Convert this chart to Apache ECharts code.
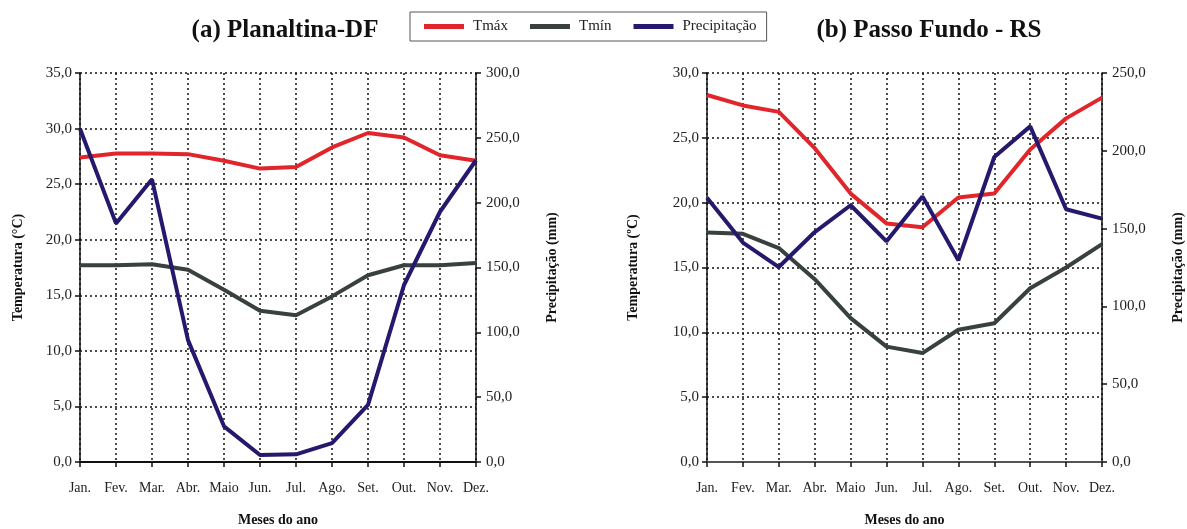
<!DOCTYPE html>
<html>
<head>
<meta charset="utf-8">
<script src="https://cdn.jsdelivr.net/npm/echarts@6/dist/echarts.min.js"></script>
<style>html,body{margin:0;padding:0;background:#fff}#c{width:1187px;height:529px}</style>
</head>
<body>
<div id="c"></div>
<script>
const months = ['Jan.','Fev.','Mar.','Abr.','Maio','Jun.','Jul.','Ago.','Set.','Out.','Nov.','Dez.'];
// (a) Planaltina-DF
const tmaxA = [27.4,27.75,27.75,27.7,27.1,26.4,26.55,28.3,29.6,29.2,27.6,27.1];
const tminA = [17.7,17.7,17.8,17.3,15.5,13.6,13.2,14.9,16.8,17.7,17.7,17.9];
const precA = [257,184,218,94,27.5,5.4,5.9,14.6,44,136.5,193,232.7];
// (b) Passo Fundo - RS
const tmaxB = [28.3,27.5,27.0,24.2,20.7,18.4,18.1,20.4,20.7,24.1,26.5,28.1];
const tminB = [17.7,17.6,16.5,14.1,11.1,8.9,8.4,10.2,10.7,13.4,15.0,16.8];
const precB = [169.9,141,125.3,147.8,165,141.8,170.7,129.6,196,215.7,162.4,156.4];

const FONT = 'Liberation Serif';
const cRed = '#e0262a', cGrey = '#384040', cNavy = '#24196c';
const fmt = v => v.toFixed(1).replace('.', ',');

function xAxis(gi, lineColor) {
  return {
    type: 'category', gridIndex: gi, data: months, boundaryGap: false,
    name: 'Meses do ano', nameLocation: 'middle', nameGap: 51,
    nameTextStyle: {fontFamily: FONT, fontWeight: 'bold', fontSize: 14, color: '#111'},
    axisLine: {lineStyle: {color: lineColor, width: 2}},
    axisTick: {show: true, length: 5, lineStyle: {color: '#111', width: 1.5}},
    axisLabel: {fontFamily: FONT, fontSize: 14, color: '#222', margin: 19, interval: 0, hideOverlap: false},
    splitLine: {show: true, interval: 0, lineStyle: {color: '#111', type: [2, 3], width: 1.5}}
  };
}
function yTemp(gi, max, name, gap) {
  return {
    type: 'value', gridIndex: gi, min: 0, max: max, interval: 5, position: 'left',
    name: name, nameLocation: 'middle', nameGap: gap,
    nameTextStyle: {fontFamily: FONT, fontWeight: 'bold', fontSize: 14, color: '#111'},
    axisLine: {show: true, lineStyle: {color: '#111', width: 1.5}},
    axisTick: {show: true, length: 5, lineStyle: {color: '#111', width: 1.5}},
    axisLabel: {fontFamily: FONT, fontSize: 15, color: '#222', formatter: fmt, margin: 8},
    splitLine: {show: true, lineStyle: {color: '#111', type: [2, 3], width: 1.5}}
  };
}
function yPrec(gi, max, gap) {
  return {
    type: 'value', gridIndex: gi, min: 0, max: max, interval: 50, position: 'right',
    name: 'Precipitação (mm)', nameLocation: 'middle', nameGap: gap,
    nameTextStyle: {fontFamily: FONT, fontWeight: 'bold', fontSize: 14, color: '#111'},
    axisLine: {show: true, lineStyle: {color: '#111', width: 1.5}},
    axisTick: {show: true, length: 5, lineStyle: {color: '#111', width: 1.5}},
    axisLabel: {fontFamily: FONT, fontSize: 15, color: '#222', formatter: fmt, margin: 10},
    splitLine: {show: false}
  };
}
function line(name, data, xi, yi, color) {
  return {name, type: 'line', data, xAxisIndex: xi, yAxisIndex: yi, symbol: 'none',
    lineStyle: {color, width: 4}, itemStyle: {color}, animation: false};
}

const chart = echarts.init(document.getElementById('c'), null, {renderer: 'canvas'});
chart.setOption({
  backgroundColor: '#fff',
  animation: false,
  title: [
    {text: '(a) Planaltina-DF', left: 280, top: 13, textAlign: 'center',
     textStyle: {fontFamily: FONT, fontWeight: 'bold', fontSize: 25, color: '#111'}},
    {text: '(b) Passo Fundo - RS', left: 924, top: 13, textAlign: 'center',
     textStyle: {fontFamily: FONT, fontWeight: 'bold', fontSize: 25, color: '#111'}}
  ],
  legend: {
    data: ['Tmáx', 'Tmín', 'Precipitação'],
    left: 410, top: 12, icon: 'rect', itemWidth: 40, itemHeight: 5, itemGap: 22,
    borderColor: '#555', borderWidth: 1, padding: [7, 10, 7, 14],
    textStyle: {fontFamily: FONT, fontSize: 15, color: '#222', padding: [0, 0, 0, 4]}
  },
  grid: [
    {left: 80, top: 73, width: 396, height: 389, outerBoundsMode: 'none', containLabel: false},
    {left: 707, top: 73, width: 395, height: 389, outerBoundsMode: 'none', containLabel: false}
  ],
  xAxis: [xAxis(0, '#111'), xAxis(1, '#555')],
  yAxis: [yTemp(0, 35, 'Temperatura (°C)', 55), yPrec(0, 300, 69),
          yTemp(1, 30, 'Temperatura (ºC)', 67), yPrec(1, 250, 69)],
  series: [
    line('Tmáx', tmaxA, 0, 0, cRed),
    line('Tmín', tminA, 0, 0, cGrey),
    line('Precipitação', precA, 0, 1, cNavy),
    line('Tmáx', tmaxB, 1, 2, cRed),
    line('Tmín', tminB, 1, 2, cGrey),
    line('Precipitação', precB, 1, 3, cNavy)
  ]
});
</script>
</body>
</html>
